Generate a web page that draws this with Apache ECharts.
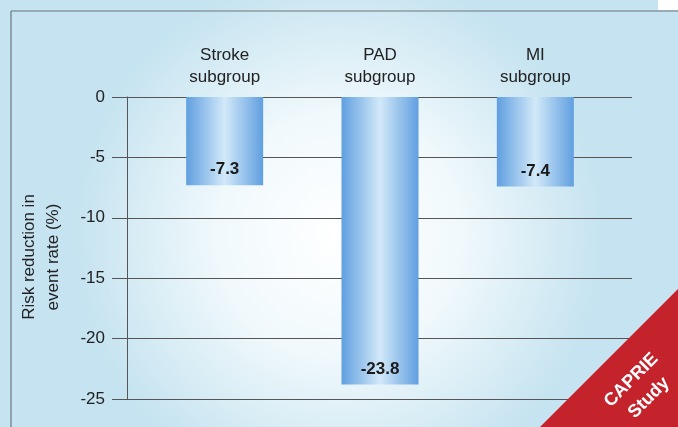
<!DOCTYPE html>
<html>
<head>
<meta charset="utf-8">
<script src="https://cdn.jsdelivr.net/npm/echarts@6/dist/echarts.min.js"></script>
<style>
  html, body { margin: 0; padding: 0; }
  #chart { width: 678px; height: 427px; }
</style>
</head>
<body>
<div id="chart"></div>
<script>
var categories = ['Stroke\nsubgroup', 'PAD\nsubgroup', 'MI\nsubgroup'];
var riskReduction = [-7.3, -23.8, -7.4];
var yTicks = [0, -5, -10, -15, -20, -25];

var chart = echarts.init(document.getElementById('chart'), null, { renderer: 'canvas' });

var FONT = 'Liberation Sans, Arial, sans-serif';

var barColor = {
    type: 'linear', x: 0, y: 0, x2: 1, y2: 0,
    colorStops: [
        { offset: 0, color: '#609fe0' },
        { offset: 0.5, color: '#d2e9f8' },
        { offset: 1, color: '#609fe0' }
    ]
};

var option = {
    backgroundColor: {
        type: 'radial', x: 0.5, y: 0.55, r: 0.62,
        colorStops: [
            { offset: 0, color: '#ffffff' },
            { offset: 0.45, color: '#f1f9fc' },
            { offset: 1, color: '#c5e3f0' }
        ]
    },
    textStyle: { fontFamily: FONT },
    grid: [
        { left: 127, right: 46, top: 97, bottom: 28, outerBoundsMode: 'none', containLabel: false },
        { left: 147, right: 65, top: 97, bottom: 28, outerBoundsMode: 'none', containLabel: false }
    ],
    xAxis: [
        { gridIndex: 0, type: 'category', data: categories, show: false },
        {
            gridIndex: 1,
            type: 'category',
            data: categories,
            position: 'top',
            axisLine: { show: false },
            axisTick: { show: false },
            axisLabel: {
                color: '#222',
                fontSize: 17,
                lineHeight: 22,
                margin: 9,
                fontFamily: FONT
            }
        }
    ],
    yAxis: [
        {
            gridIndex: 0,
            type: 'value',
            min: yTicks[yTicks.length - 1],
            max: yTicks[0],
            interval: 5,
            name: 'Risk reduction in\nevent rate (%)',
            nameLocation: 'middle',
            nameRotate: 90,
            nameGap: 62,
            nameMoveOverlap: false,
            nameTextStyle: {
                color: '#222',
                fontSize: 17,
                lineHeight: 24,
                fontFamily: FONT,
                padding: [0, 18, 0, 0]
            },
            axisLine: { show: true, lineStyle: { color: '#555', width: 1 } },
            axisTick: { show: true, inside: false, length: 15, lineStyle: { color: '#555' } },
            axisLabel: {
                color: '#222',
                fontSize: 17,
                margin: 22,
                fontFamily: FONT
            },
            splitLine: { show: true, lineStyle: { color: '#555', width: 1 } }
        },
        {
            gridIndex: 1,
            type: 'value',
            min: yTicks[yTicks.length - 1],
            max: yTicks[0],
            interval: 5,
            show: false,
            splitLine: { show: false }
        }
    ],
    series: [{
        type: 'bar',
        xAxisIndex: 1,
        yAxisIndex: 1,
        data: riskReduction,
        barWidth: 77,
        itemStyle: { color: barColor },
        label: {
            show: true,
            position: 'insideBottom',
            distance: 7,
            color: '#1a1a1a',
            fontSize: 17,
            fontWeight: 'bold',
            fontFamily: FONT,
            formatter: function (p) { return p.value.toFixed(1); }
        }
    }],
    graphic: [
        { type: 'rect', shape: { x: 658, y: 0, width: 20, height: 10 }, style: { fill: '#ffffff' }, silent: true },
        { type: 'line', shape: { x1: 11, y1: 11, x2: 678, y2: 11 }, style: { stroke: '#6f767a', lineWidth: 1.2 }, silent: true },
        { type: 'line', shape: { x1: 11, y1: 11, x2: 11, y2: 427 }, style: { stroke: '#6f767a', lineWidth: 1.2 }, silent: true },
        {
            type: 'polygon',
            shape: { points: [[678, 289], [678, 427], [540, 427]] },
            style: { fill: '#c4232c' },
            silent: true,
            z: 100
        },
        {
            type: 'text',
            x: 640,
            y: 389,
            rotation: Math.PI / 4,
            style: {
                text: 'CAPRIE\nStudy',
                fill: '#ffffff',
                font: 'bold 18px ' + FONT,
                lineHeight: 25,
                align: 'center',
                verticalAlign: 'middle'
            },
            silent: true,
            z: 101
        }
    ]
};

chart.setOption(option);
</script>
</body>
</html>
